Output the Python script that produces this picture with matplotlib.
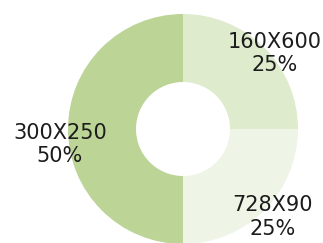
import matplotlib.pyplot as plt

sizes = ['160X600', '728X90', '300X250']
shares = [25, 25, 50]
colors = ['#deebcc', '#eef5e6', '#bcd597']

# label centres in pixel coords (y down), layout only
label_pos = [(275, 53.5), (272.5, 217), (60, 144.5)]

W, H = 323, 243
fig = plt.figure(figsize=(W / 100, H / 100), dpi=100)
ax = fig.add_axes([0, 0, 1, 1])

cx, cy = 183, H - 129
ax.pie(shares, colors=colors, startangle=90, counterclock=False,
       center=(cx, cy), radius=115, frame=True,
       wedgeprops=dict(width=115 - 47, linewidth=0))
ax.set_xlim(0, W)
ax.set_ylim(0, H)
ax.set_aspect('equal')
ax.axis('off')

for name, pct, (x, y) in zip(sizes, shares, label_pos):
    ax.text(x, H - y, '{}\n{}%'.format(name, pct), ha='center', va='center',
            fontsize=15, family='DejaVu Sans', fontweight='normal',
            color='#1c1c1c', linespacing=1.22)

plt.savefig('out.png', dpi=100)
